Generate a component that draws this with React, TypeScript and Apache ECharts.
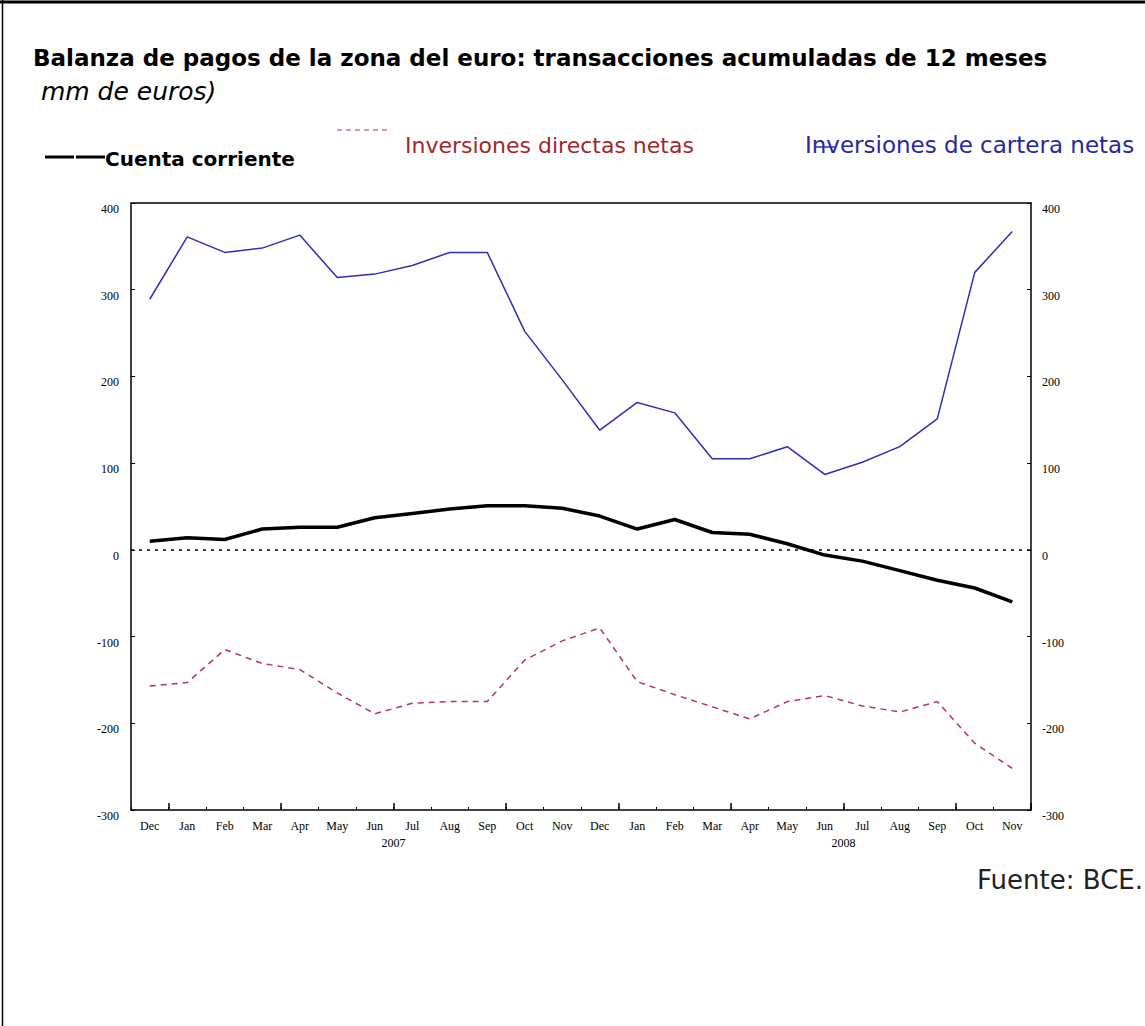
import React, { useEffect, useRef } from "react";
import * as echarts from "echarts";

const months = ["Dec", "Jan", "Feb", "Mar", "Apr", "May", "Jun", "Jul", "Aug", "Sep", "Oct", "Nov", "Dec", "Jan", "Feb", "Mar", "Apr", "May", "Jun", "Jul", "Aug", "Sep", "Oct", "Nov"];
const years = [
  { text: "2007", afterIndex: 6 },
  { text: "2008", afterIndex: 18 },
];
const cuentaCorriente = [10, 14, 12, 24, 26, 26, 37, 42, 47, 51, 51, 48, 39, 24, 35, 20, 18, 7, -6, -13, -24, -35, -44, -60];
const inversionesDirectas = [-157, -153, -115, -131, -138, -165, -189, -177, -175, -175, -127, -105, -90, -152, -167, -181, -195, -175, -168, -180, -187, -175, -223, -252];
const inversionesCartera = [289, 361, 343, 348, 363, 314, 318, 328, 343, 343, 252, 196, 138, 170, 158, 105, 105, 119, 87, 101, 119, 151, 320, 367];

const Y_MIN = -300;
const Y_MAX = 400;
const Y_STEP = 100;

const title = "Balanza de pagos de la zona del euro: transacciones acumuladas de 12 meses";
const subtitle = " mm de euros)";
const legendCuenta = "Cuenta corriente";
const legendDirectas = "Inversiones directas netas";
const legendCartera = "Inversiones de cartera netas";
const source = "Fuente: BCE.";

const BLUE = "#2f2fb4";
const RED = "#b8335e";

export default function App() {
  const ref = useRef<HTMLDivElement>(null);

  useEffect(() => {
    document.body.style.margin = "0";
    const chart = echarts.init(ref.current!, undefined, { renderer: "svg" });
    const axisLabelFont = { fontFamily: "Liberation Serif", fontSize: 12, color: "#000" };
    chart.setOption({
      animation: false,
      backgroundColor: "#fff",
      grid: { left: 131, right: 114, top: 203, bottom: 216, containLabel: false },
      xAxis: [
        {
          type: "category",
          data: months,
          boundaryGap: true,
          position: "bottom",
          axisLine: { show: true, onZero: false, lineStyle: { color: "#000", width: 1.5 } },
          axisTick: {
            show: true,
            inside: true,
            length: 7,
            interval: (i: number) => i % 3 === 1,
            lineStyle: { color: "#000", width: 1.5 },
          },
          axisLabel: { ...axisLabelFont, interval: 0, margin: 10 },
          splitLine: { show: false },
        },
        {
          type: "category",
          data: months,
          boundaryGap: true,
          position: "bottom",
          axisLine: { show: false, onZero: false },
          axisTick: { show: true, inside: true, length: 3, interval: 0, lineStyle: { color: "#000", width: 1 } },
          axisLabel: { show: false },
          splitLine: { show: false },
        },
        {
          type: "category",
          data: months,
          boundaryGap: true,
          position: "top",
          axisLine: { show: true, onZero: false, lineStyle: { color: "#000", width: 1.5 } },
          axisTick: { show: false },
          axisLabel: { show: false },
        },
      ],
      yAxis: [
        {
          type: "value",
          min: Y_MIN,
          max: Y_MAX,
          interval: Y_STEP,
          position: "left",
          axisLine: { show: true, onZero: false, lineStyle: { color: "#000", width: 1.5 } },
          axisTick: { show: true, inside: true, length: 4, lineStyle: { color: "#000" } },
          axisLabel: { fontFamily: "Liberation Serif", fontSize: 12, color: "#000", margin: 12, verticalAlign: "top" },
          splitLine: { show: false },
        },
        {
          type: "value",
          min: Y_MIN,
          max: Y_MAX,
          interval: Y_STEP,
          position: "right",
          axisLine: { show: true, onZero: false, lineStyle: { color: "#000", width: 1.5 } },
          axisTick: { show: true, inside: true, length: 4, lineStyle: { color: "#000" } },
          axisLabel: { fontFamily: "Liberation Serif", fontSize: 12, color: "#000", margin: 11, verticalAlign: "top" },
          splitLine: { show: false },
        },
      ],
      series: [
        {
          name: legendCartera,
          type: "line",
          data: inversionesCartera,
          symbol: "none",
          lineStyle: { color: BLUE, width: 1.5 },
          z: 3,
        },
        {
          name: legendDirectas,
          type: "line",
          data: inversionesDirectas,
          symbol: "none",
          lineStyle: { color: RED, width: 1.5, type: [6, 5] },
          z: 3,
        },
        {
          name: legendCuenta,
          type: "line",
          data: cuentaCorriente,
          symbol: "none",
          lineStyle: { color: "#000", width: 3.5 },
          z: 4,
          markLine: {
            silent: true,
            symbol: "none",
            label: { show: false },
            lineStyle: { color: "#000", width: 1.5, type: [3, 5] },
            data: [{ yAxis: 0 }],
          },
        },
      ],
    });

    const yearGraphics = years.map((y) => {
      const a = chart.convertToPixel({ xAxisIndex: 0 }, y.afterIndex) as number;
      const b = chart.convertToPixel({ xAxisIndex: 0 }, y.afterIndex + 1) as number;
      return {
        type: "text",
        x: (a + b) / 2,
        y: 843,
        style: { text: y.text, fontFamily: "Liberation Serif", fontSize: 12, fill: "#000", textAlign: "center", textVerticalAlign: "middle" },
      };
    });

    chart.setOption({
      graphic: [
        { type: "line", shape: { x1: 0, y1: 2, x2: 1145, y2: 2 }, style: { stroke: "#000", lineWidth: 3 } },
        { type: "line", shape: { x1: 2.5, y1: 0, x2: 2.5, y2: 1026 }, style: { stroke: "#000", lineWidth: 1.5 } },
        {
          type: "text",
          x: 33,
          y: 58,
          style: { text: title, fontFamily: "DejaVu Sans", fontWeight: "bold", fontSize: 23, fill: "#000", textVerticalAlign: "middle" },
        },
        {
          type: "text",
          x: 33,
          y: 91,
          style: { text: subtitle, fontFamily: "DejaVu Sans", fontStyle: "italic", fontSize: 25, fill: "#000", textVerticalAlign: "middle" },
        },
        { type: "line", shape: { x1: 45, y1: 157, x2: 74, y2: 157 }, style: { stroke: "#000", lineWidth: 3 } },
        { type: "line", shape: { x1: 76, y1: 157, x2: 105, y2: 157 }, style: { stroke: "#000", lineWidth: 3 } },
        {
          type: "text",
          x: 105,
          y: 159,
          style: { text: legendCuenta, fontFamily: "DejaVu Sans", fontWeight: "bold", fontSize: 20, fill: "#000", textVerticalAlign: "middle" },
        },
        { type: "line", shape: { x1: 337, y1: 130, x2: 390, y2: 130 }, style: { stroke: "#c0303a", lineWidth: 1.2, lineDash: [5, 4] } },
        {
          type: "text",
          x: 405,
          y: 145,
          style: { text: legendDirectas, fontFamily: "DejaVu Sans", fontSize: 22, fill: "#a02828", textVerticalAlign: "middle" },
        },
        {
          type: "text",
          x: 805,
          y: 145,
          style: { text: legendCartera, fontFamily: "DejaVu Sans", fontSize: 23, fill: "#2828a0", textVerticalAlign: "middle" },
        },
        { type: "line", shape: { x1: 816, y1: 147, x2: 836, y2: 147 }, style: { stroke: BLUE, lineWidth: 1.5 } },
        {
          type: "text",
          x: 1143,
          y: 880,
          style: { text: source, fontFamily: "DejaVu Sans", fontSize: 26, fill: "#222", textAlign: "right", textVerticalAlign: "middle" },
        },
        ...yearGraphics,
      ],
    });

    return () => chart.dispose();
  }, []);

  return <div ref={ref} style={{ width: 1145, height: 1026 }} />;
}
